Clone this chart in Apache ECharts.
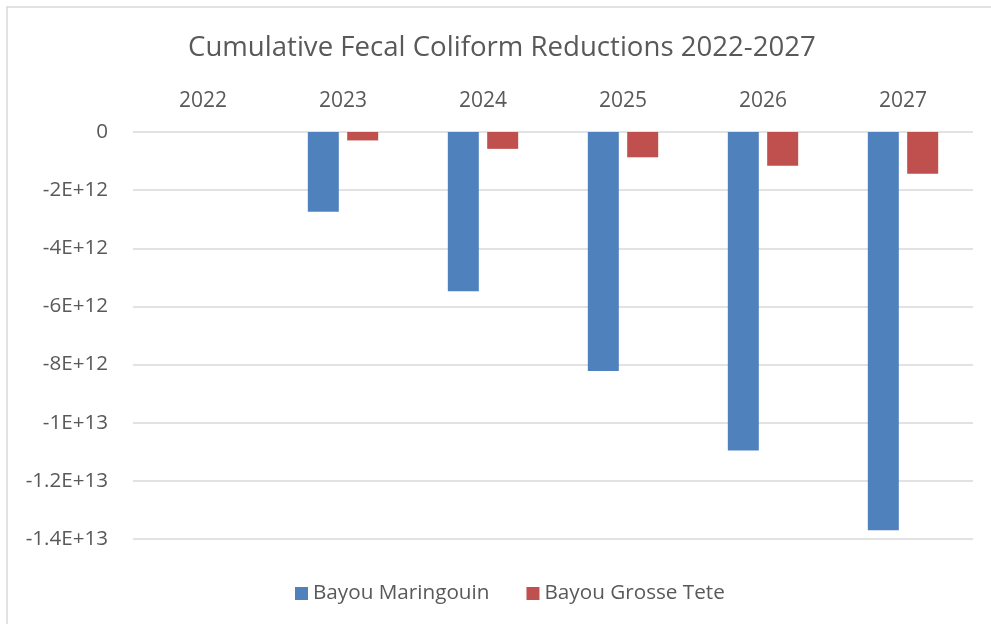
<!DOCTYPE html>
<html>
<head>
<meta charset="utf-8">
<script src="https://cdn.jsdelivr.net/npm/echarts@6/dist/echarts.min.js"></script>
<style>
  html, body { margin: 0; padding: 0; background: #fff; }
  #chart { width: 991px; height: 624px; }
</style>
</head>
<body>
<div id="chart"></div>
<script>
// data
const years = ['2022', '2023', '2024', '2025', '2026', '2027'];
const maringouin = [0, -2.74e12, -5.48e12, -8.22e12, -1.096e13, -1.370e13];
const grosseTete = [0, -0.29e12, -0.58e12, -0.87e12, -1.16e12, -1.44e12];

const textColor = '#595959';
const fontFamily = '"Open Sans", sans-serif';

const chart = echarts.init(document.getElementById('chart'));

chart.setOption({
  backgroundColor: '#fff',
  animation: false,
  textStyle: { fontFamily: fontFamily },
  title: {
    text: 'Cumulative Fecal Coliform Reductions 2022-2027',
    left: 183,
    top: 29,
    textStyle: {
      color: textColor,
      fontSize: 27.6,
      fontWeight: 'normal',
      fontFamily: fontFamily
    }
  },
  // chart area border (cut by the picture on the right and bottom)
  graphic: [
    {
      type: 'rect',
      shape: { x: 7, y: 7, width: 1100, height: 800 },
      style: { fill: 'none', stroke: '#d9d9d9', lineWidth: 1.5 },
      silent: true
    }
  ],
  legend: {
    data: ['Bayou Maringouin', 'Bayou Grosse Tete'],
    left: 290,
    top: 578,
    itemWidth: 13,
    itemHeight: 13,
    itemGap: 37,
    icon: 'rect',
    textStyle: { color: textColor, fontSize: 20.7, fontFamily: fontFamily }
  },
  grid: {
    left: 133,
    right: 18,
    top: 132,
    bottom: 85,
    containLabel: false
  },
  xAxis: {
    type: 'category',
    position: 'top',
    data: years,
    axisLine: { show: false },
    axisTick: { show: false },
    axisLabel: {
      color: textColor,
      fontSize: 21,
      fontFamily: fontFamily,
      margin: 20
    }
  },
  yAxis: {
    type: 'value',
    min: -1.4e13,
    max: 0,
    interval: 2e12,
    axisLine: { show: false },
    axisTick: { show: false },
    axisLabel: {
      color: textColor,
      fontSize: 20.6,
      fontFamily: fontFamily,
      margin: 25,
      formatter: function (v) {
        if (v === 0) return '0';
        return v.toExponential().replace('e', 'E');
      }
    },
    splitLine: { lineStyle: { color: '#d9d9d9', width: 1.5 } }
  },
  series: [
    {
      name: 'Bayou Maringouin',
      type: 'bar',
      data: maringouin,
      barWidth: 31,
      barGap: '27%',
      itemStyle: { color: '#4F81BD' }
    },
    {
      name: 'Bayou Grosse Tete',
      type: 'bar',
      data: grosseTete,
      barWidth: 31,
      itemStyle: { color: '#C0504D' }
    }
  ]
});
</script>
</body>
</html>
